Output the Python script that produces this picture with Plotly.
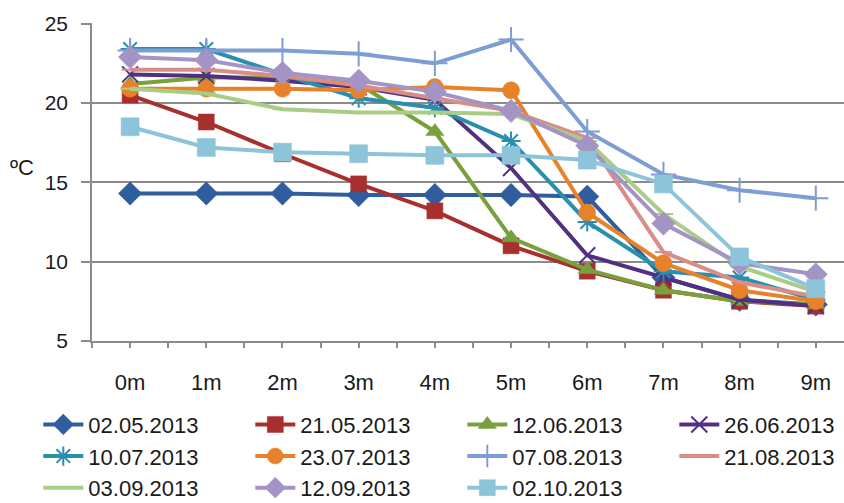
import plotly.graph_objects as go

depths = ["0m", "1m", "2m", "3m", "4m", "5m", "6m", "7m", "8m", "9m"]

s_0205 = [14.3, 14.3, 14.3, 14.2, 14.2, 14.2, 14.1, 9.0, 7.6, 7.3]
s_2105 = [20.5, 18.8, 16.8, 14.9, 13.2, 11.0, 9.4, 8.2, 7.5, 7.2]
s_1206 = [21.2, 21.6, 21.6, 21.2, 18.2, 11.5, 9.5, 8.2, 7.5, 7.3]
s_2606 = [21.8, 21.7, 21.4, 21.0, 20.2, 15.9, 10.4, 9.0, 7.6, 7.2]
s_1007 = [23.4, 23.4, 21.8, 20.3, 19.7, 17.6, 12.5, 9.4, 9.0, 7.6]
s_2307 = [20.9, 20.9, 20.9, 20.8, 21.0, 20.8, 13.1, 9.9, 8.2, 7.5]
s_0708 = [23.3, 23.3, 23.3, 23.1, 22.5, 24.0, 18.2, 15.5, 14.5, 14.0]
s_2108 = [22.1, 22.1, 21.7, 21.1, 20.3, 19.5, 17.8, 10.6, 8.7, 7.8]
s_0309 = [20.9, 20.6, 19.6, 19.4, 19.4, 19.3, 17.6, 13.0, 9.7, 8.1]
s_1209 = [22.9, 22.7, 21.9, 21.4, 20.7, 19.5, 17.3, 12.4, 9.9, 9.2]
s_0210 = [18.5, 17.2, 16.9, 16.8, 16.7, 16.7, 16.4, 14.9, 10.3, 8.3]

labels = ["02.05.2013", "21.05.2013", "12.06.2013", "26.06.2013",
          "10.07.2013", "23.07.2013", "07.08.2013", "21.08.2013",
          "03.09.2013", "12.09.2013", "02.10.2013"]
series = [s_0205, s_2105, s_1206, s_2606, s_1007, s_2307, s_0708,
          s_2108, s_0309, s_1209, s_0210]
colors = ["#2F5D9E", "#A7302F", "#79A03C", "#523080", "#2A8FAE", "#E8822A",
          "#7E9DD3", "#D88D89", "#A9CD86", "#A493C5", "#8DC4D9"]
symbols = ["diamond", "square", "triangle-up", "x-thin-open", "asterisk-open",
           "circle", "cross-thin-open", "line-ew-open", "line-ew-open",
           "diamond", "square"]
sizes = [18, 16, 16, 16, 16, 17, 18, 12, 14, 18, 18]

x = list(range(len(depths)))

fig = go.Figure()
for lab, ys, c, sym, sz in zip(labels, series, colors, symbols, sizes):
    open_sym = sym.endswith("open")
    fig.add_trace(go.Scatter(
        x=x, y=ys, name=lab, mode="lines+markers",
        line=dict(color=c, width=4),
        marker=dict(symbol=sym, size=sz, color=c,
                    line=dict(color=c, width=2 if open_sym else 0.5)),
    ))

fig.update_layout(
    width=844, height=503,
    margin=dict(l=92, r=0, t=23, b=162, autoexpand=False),
    paper_bgcolor="white", plot_bgcolor="white",
    font=dict(family="Liberation Sans, Arial, sans-serif", size=20, color="#1a1a1a"),
    showlegend=True,
    legend=dict(orientation="h", x=-0.0714, xanchor="left", y=-0.197, yanchor="top",
                font=dict(size=22, color="#1a1a1a"),
                entrywidth=157, entrywidthmode="pixels",
                traceorder="normal", itemwidth=40, borderwidth=0),
    annotations=[dict(text="ºC", x=-0.093, y=0.545, xref="paper", yref="paper",
                      showarrow=False, xanchor="center", yanchor="middle",
                      font=dict(size=22, color="#1a1a1a"))],
)

fig.update_xaxes(
    range=[-0.5, 9.37], tickmode="array", tickvals=x, ticktext=depths,
    showgrid=False, zeroline=False, showline=True, linecolor="#8C8C8C", linewidth=1.5,
    ticks="outside", ticklen=5, tickcolor="#8C8C8C", tickwidth=1.5,
    ticklabelstandoff=16, tickfont=dict(size=22),
    minor=dict(tickmode="linear", tick0=0.5, dtick=1, ticks="outside",
               ticklen=5, tickcolor="#8C8C8C", tickwidth=1.5, showgrid=False),
)
fig.update_yaxes(
    range=[5, 25.04], tickmode="linear", tick0=5, dtick=5,
    showgrid=True, gridcolor="#8C8C8C", gridwidth=1.5, zeroline=False,
    showline=True, linecolor="#8C8C8C", linewidth=1.5,
    ticks="outside", ticklen=9, tickcolor="#8C8C8C", tickwidth=1.5,
    ticklabelstandoff=9, tickfont=dict(size=21),
)

fig.write_html("out.html", config={"displayModeBar": False},
               post_script="document.body.style.margin='0';")
